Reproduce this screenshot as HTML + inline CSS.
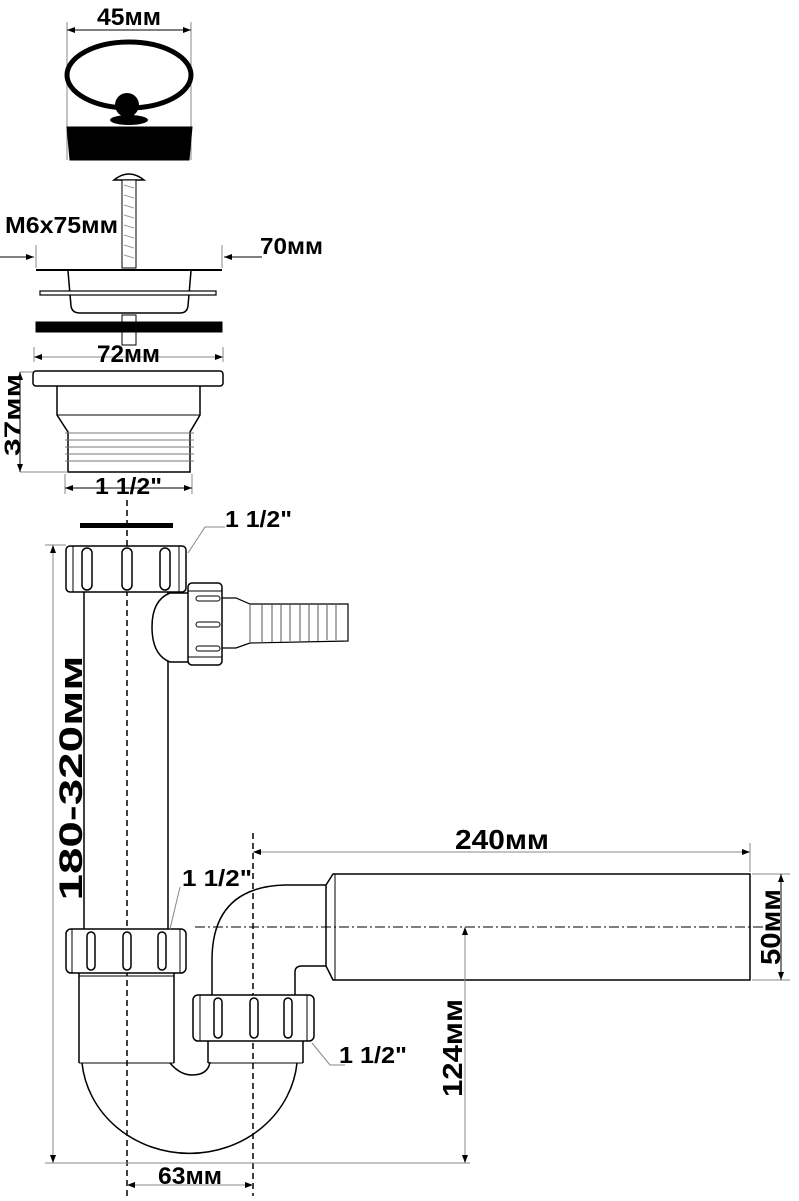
<!DOCTYPE html>
<html><head><meta charset="utf-8"><style>
html,body{margin:0;padding:0;background:#fff;}
svg{display:block;}
text{font-family:"Liberation Sans",sans-serif;font-weight:bold;fill:#000;}
</style></head><body>
<svg width="799" height="1201" viewBox="0 0 799 1201" xmlns="http://www.w3.org/2000/svg">
<defs>
<marker id="a" markerWidth="8" markerHeight="6" refX="8" refY="3" orient="auto" markerUnits="userSpaceOnUse"><path d="M0,0 L8,3 L0,6z" fill="#000"/></marker>
<marker id="b" markerWidth="8" markerHeight="6" refX="0" refY="3" orient="auto" markerUnits="userSpaceOnUse"><path d="M8,0 L0,3 L8,6z" fill="#000"/></marker>
</defs>
<g stroke="#000" fill="none" stroke-width="1">
<line x1="67" y1="22" x2="67" y2="160" stroke="#888"/>
<line x1="191" y1="22" x2="191" y2="160" stroke="#888"/>
<line x1="67" y1="30" x2="191" y2="30" marker-start="url(#b)" marker-end="url(#a)"/>
<ellipse cx="129" cy="75" rx="62" ry="33" stroke-width="5"/>
<circle cx="127" cy="105" r="12" fill="#000" stroke="none"/>
<rect x="122" y="105" width="12" height="18" fill="#000" stroke="none"/>
<ellipse cx="129" cy="120" rx="19" ry="5" fill="#000" stroke="none"/>
<path d="M67,127 L192,127 L189,160 L70,160z" fill="#000"/>
<path d="M114,180 Q129,168 144,180 Z" fill="#fff" stroke-width="1.5"/>
<rect x="122" y="180" width="14" height="88" fill="#fff"/>
<rect x="122" y="315" width="14" height="30" fill="#fff"/>
<path d="M124,185 L134,188 M124,195 L134,198 M124,205 L134,208 M124,215 L134,218 M124,225 L134,228 M124,235 L134,238 M124,245 L134,248 M124,255 L134,258" stroke="#999"/>
<line x1="36" y1="245" x2="36" y2="268" stroke="#888"/>
<line x1="222" y1="245" x2="222" y2="268" stroke="#888"/>
<line x1="0" y1="257" x2="34" y2="257" marker-end="url(#a)"/>
<line x1="262" y1="257" x2="224" y2="257" marker-end="url(#a)"/>
<line x1="36" y1="270" x2="222" y2="270" stroke-width="2"/>
<path d="M68,271 L71,306 Q72,313 80,313 L180,313 Q187,313 188,306 L191,271" stroke-width="1.5"/>
<rect x="40" y="291" width="176" height="4" stroke-width="1.2" fill="#fff"/>
<rect x="36" y="322" width="186" height="10" fill="#000"/>
<line x1="34" y1="347" x2="34" y2="362" stroke="#888"/>
<line x1="223" y1="347" x2="223" y2="362" stroke="#888"/>
<line x1="34" y1="357" x2="223" y2="357" stroke="#888" marker-start="url(#b)" marker-end="url(#a)"/>
<rect x="33" y="371" width="190" height="15" rx="3" stroke-width="1.5"/>
<path d="M57,386 L57,415 L68,432 L68,472 L190,472 L190,432 L200,415 L200,386" stroke-width="1.5"/>
<line x1="57" y1="415" x2="200" y2="415"/>
<path d="M65,433 L194,433 M65,440 L194,440 M65,447 L194,447 M65,454 L194,454 M65,461 L194,461" stroke="#777"/>
<line x1="20" y1="372" x2="33" y2="372" stroke="#888"/>
<line x1="20" y1="472" x2="68" y2="472" stroke="#888"/>
<line x1="20" y1="372" x2="20" y2="472" marker-start="url(#b)" marker-end="url(#a)"/>
<line x1="65" y1="474" x2="65" y2="494" stroke="#888"/>
<line x1="192" y1="474" x2="192" y2="494" stroke="#888"/>
<line x1="65" y1="488" x2="192" y2="488" marker-start="url(#b)" marker-end="url(#a)"/>

<rect x="80" y="523" width="93" height="5" fill="#000" stroke="none"/>
<line x1="127" y1="500" x2="127" y2="1196" stroke-dasharray="6,4" stroke-width="1.5"/>
<line x1="253" y1="833" x2="253" y2="1196" stroke-dasharray="6,4" stroke-width="1.5"/>
<line x1="195" y1="927" x2="775" y2="927" stroke-dasharray="10,3,2,3"/>
<rect x="66" y="546" width="120" height="46" rx="4" stroke-width="1.5" fill="#fff"/>
<rect x="82" y="548" width="10" height="42" rx="5" stroke-width="1.5"/>
<rect x="122" y="548" width="10" height="42" rx="5" stroke-width="1.5"/>
<rect x="160" y="548" width="10" height="42" rx="5" stroke-width="1.5"/>
<line x1="73" y1="546" x2="73" y2="592"/><line x1="179" y1="546" x2="179" y2="592"/>
<path d="M188,553 L205,527 L225,527" stroke="#888"/>
<line x1="84" y1="592" x2="84" y2="929" stroke-width="1.5"/>
<line x1="168" y1="592" x2="168" y2="929" stroke-width="1.5"/>
<path d="M188,593 L170,593 Q152,600 152,627 Q152,655 170,662 L188,662" stroke-width="1.5" fill="#fff"/>
<rect x="188" y="583" width="34" height="82" rx="4" stroke-width="1.5" fill="#fff"/>
<line x1="188" y1="591" x2="222" y2="591"/><line x1="188" y1="657" x2="222" y2="657"/>
<rect x="196" y="596" width="24" height="5" rx="2.5"/>
<rect x="196" y="622" width="24" height="5" rx="2.5"/>
<rect x="196" y="646" width="24" height="5" rx="2.5"/>
<path d="M222,598 L236,598 L250,604 L348,604 L348,641 L250,643 L236,648 L222,648" stroke-width="1.2"/>
<path d="M250,604 L250,643 M262,604 L262,643 M272,604 L272,642 M281,604 L281,642 M290,604 L290,641 M300,605 L300,641 M309,605 L309,641 M318,605 L318,641 M327,605 L327,640 M336,605 L336,640" stroke="#555"/>
<line x1="45" y1="545" x2="66" y2="545" stroke="#888"/>
<line x1="53" y1="545" x2="53" y2="1163" stroke="#888" marker-start="url(#b)" marker-end="url(#a)"/>
<line x1="45" y1="1163" x2="470" y2="1163" stroke="#888"/>
<rect x="66" y="929" width="120" height="44" rx="5" stroke-width="1.5" fill="#fff"/>
<line x1="72" y1="929" x2="72" y2="973"/><line x1="180" y1="929" x2="180" y2="973"/>
<rect x="87" y="932" width="8" height="38" rx="4" stroke-width="1.5"/>
<rect x="123" y="932" width="8" height="38" rx="4" stroke-width="1.5"/>
<rect x="158" y="932" width="8" height="38" rx="4" stroke-width="1.5"/>
<path d="M170,929 L180,887" stroke="#888"/>
<path d="M79,973 L79,1063 M174,973 L174,1063" stroke-width="1.5"/>
<line x1="79" y1="976" x2="174" y2="976"/>
<path d="M82,1063 A108,100 0 0 0 297,1063" stroke-width="1.5"/>
<line x1="79" y1="1063" x2="174" y2="1063"/>
<path d="M170,1063 Q180,1075 192,1075 Q208,1075 210,1062" stroke-width="1.5"/>
<line x1="208" y1="1063" x2="303" y2="1063"/>
<path d="M212,995 L212,960 Q212,887 285,885 L326,885" stroke-width="1.5"/>
<path d="M295,995 L295,972 Q295,966 302,966 L326,966" stroke-width="1.5"/>
<path d="M326,885 L333,874 L750,874 L750,980 L333,980 L326,966 Z" stroke-width="1.5" fill="none"/>
<line x1="335" y1="874" x2="335" y2="980"/>
<rect x="193" y="995" width="121" height="46" rx="5" stroke-width="1.5" fill="#fff"/>
<line x1="200" y1="995" x2="200" y2="1041"/><line x1="307" y1="995" x2="307" y2="1041"/>
<rect x="214" y="998" width="8" height="40" rx="4" stroke-width="1.5"/>
<rect x="250" y="998" width="8" height="40" rx="4" stroke-width="1.5"/>
<rect x="284" y="998" width="8" height="40" rx="4" stroke-width="1.5"/>
<path d="M208,1041 L208,1063 M303,1041 L303,1063" stroke-width="1.5"/>
<path d="M312,1043 L330,1065 L345,1065" stroke="#888"/>
<line x1="750" y1="843" x2="750" y2="872" stroke="#888"/>
<line x1="253" y1="852" x2="750" y2="852" stroke="#888" marker-start="url(#b)" marker-end="url(#a)"/>
<line x1="752" y1="874" x2="790" y2="874" stroke="#888"/>
<line x1="752" y1="980" x2="790" y2="980" stroke="#888"/>
<line x1="781" y1="874" x2="781" y2="980" marker-start="url(#b)" marker-end="url(#a)"/>
<line x1="465" y1="927" x2="465" y2="1163" stroke="#888" marker-start="url(#b)" marker-end="url(#a)"/>
<line x1="127" y1="1185" x2="253" y2="1185" stroke="#888" marker-start="url(#b)" marker-end="url(#a)"/>
</g>
<text x="97" y="25" font-size="24" textLength="64" lengthAdjust="spacingAndGlyphs">45мм</text>
<text x="5" y="233" font-size="23" textLength="113" lengthAdjust="spacingAndGlyphs">M6x75мм</text>
<text x="260" y="254" font-size="23" textLength="63" lengthAdjust="spacingAndGlyphs">70мм</text>
<text x="97" y="362" font-size="24" textLength="63" lengthAdjust="spacingAndGlyphs">72мм</text>
<text transform="translate(20,415) rotate(-90)" font-size="22" text-anchor="middle" textLength="82" lengthAdjust="spacingAndGlyphs">37мм</text>
<text x="95" y="494" font-size="23" textLength="67" lengthAdjust="spacingAndGlyphs">1 1/2"</text>
<text x="225" y="527" font-size="23" textLength="67" lengthAdjust="spacingAndGlyphs">1 1/2"</text>
<text transform="translate(82,778) rotate(-90)" font-size="32" text-anchor="middle" textLength="245" lengthAdjust="spacingAndGlyphs">180-320мм</text>
<text x="182" y="886" font-size="23" textLength="70" lengthAdjust="spacingAndGlyphs">1 1/2"</text>
<text x="455" y="849" font-size="28" textLength="94" lengthAdjust="spacingAndGlyphs">240мм</text>
<text transform="translate(780,927) rotate(-90)" font-size="28" text-anchor="middle" textLength="76" lengthAdjust="spacingAndGlyphs">50мм</text>
<text transform="translate(462,1048) rotate(-90)" font-size="28" text-anchor="middle" textLength="98" lengthAdjust="spacingAndGlyphs">124мм</text>
<text x="339" y="1063" font-size="23" textLength="68" lengthAdjust="spacingAndGlyphs">1 1/2"</text>
<text x="158" y="1184" font-size="24" textLength="64" lengthAdjust="spacingAndGlyphs">63мм</text>
</svg>
</body></html>
